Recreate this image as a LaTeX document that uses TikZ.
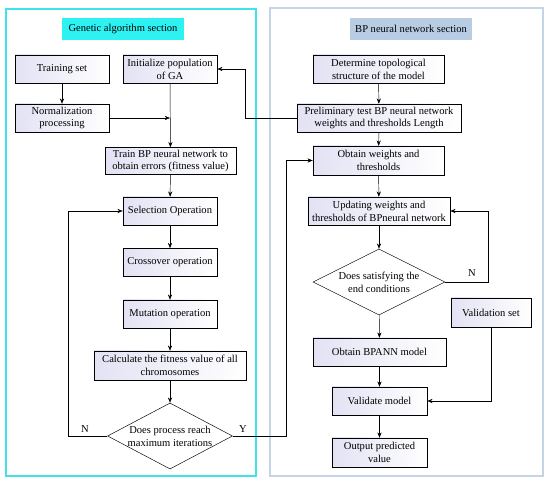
\documentclass[tikz,border=0pt]{standalone}
\usepackage{fontspec}
\setmainfont{Liberation Serif}
\usetikzlibrary{shapes.geometric,arrows.meta}
\definecolor{gaframe}{HTML}{3FE3EA}
\definecolor{gatitle}{HTML}{2EF2F2}
\definecolor{bpframe}{HTML}{C6D4E8}
\definecolor{bptitle}{HTML}{B8CCE4}
\definecolor{boxshade}{HTML}{E2E2F4}
\tikzset{
	box/.style={draw,left color=boxshade,right color=white,align=center,inner sep=1pt,font=\fontsize{9}{11}\selectfont},
	decide/.style={draw,diamond,aspect=1.9,inner sep=0pt,fill=white,align=center,font=\fontsize{9}{11}\selectfont},
	lbl/.style={font=\fontsize{9}{11}\selectfont}
}
\begin{document}
\begin{tikzpicture}[x=0.03cm,y=-0.03cm,>={Stealth[length=4.5pt,width=3.5pt]}]
	\useasboundingbox (0,0) rectangle (550,484);
	% frames
	\draw[gaframe,line width=1.2pt] (6,9) rectangle (256,476);
	\draw[bpframe,line width=1.2pt] (270,8) rectangle (543,476);
	\node[fill=gatitle,minimum width=122*0.03cm,minimum height=22*0.03cm,lbl] (gatitle) at (123,29) {Genetic algorithm section};
	\node[fill=bptitle,minimum width=122*0.03cm,minimum height=22*0.03cm,lbl] (bptitle) at (411,29) {BP neural network section};
	% genetic algorithm
	\node[box,minimum width=94*0.03cm,minimum height=28*0.03cm] (tset) at (62,69) {Training set};
	\node[box,minimum width=94*0.03cm,minimum height=28*0.03cm] (init) at (170,69) {Initialize population\\of GA};
	\node[box,minimum width=94*0.03cm,minimum height=28*0.03cm] (norm) at (62,118) {Normalization\\processing};
	\node[box,minimum width=131*0.03cm,minimum height=27*0.03cm] (train) at (170.5,161) {Train BP neural network to\\obtain errors (fitness value)};
	\node[box,minimum width=94*0.03cm,minimum height=28*0.03cm] (sel) at (170,211) {Selection Operation};
	\node[box,minimum width=94*0.03cm,minimum height=28*0.03cm] (cross) at (170,262.5) {Crossover operation};
	\node[box,minimum width=94*0.03cm,minimum height=28*0.03cm] (mut) at (170,314) {Mutation operation};
	\node[box,minimum width=152*0.03cm,minimum height=29*0.03cm] (calc) at (170,365.5) {Calculate the fitness value of all\\chromosomes};
	\node[decide,minimum width=125*0.03cm,minimum height=66*0.03cm] (maxit) at (170,436) {Does process reach\\maximum iterations};
	% BP neural network
	\node[box,minimum width=131*0.03cm,minimum height=28*0.03cm] (topo) at (378.5,69) {Determine topological\\structure of the model};
	\node[box,minimum width=164*0.03cm,minimum height=28*0.03cm] (prelim) at (379,118) {Preliminary test BP neural network\\weights and thresholds Length};
	\node[box,minimum width=131*0.03cm,minimum height=29*0.03cm] (obtw) at (378.5,160.5) {Obtain weights and\\thresholds};
	\node[box,minimum width=142*0.03cm,minimum height=28*0.03cm] (upd) at (379,211) {Updating weights and\\thresholds of BPneural network};
	\node[decide,minimum width=132*0.03cm,minimum height=66*0.03cm] (endc) at (379,282) {Does satisfying the\\end conditions};
	\node[box,minimum width=80*0.03cm,minimum height=29*0.03cm] (valset) at (491,312.5) {Validation set};
	\node[box,minimum width=133*0.03cm,minimum height=28*0.03cm] (bpann) at (379.5,352) {Obtain BPANN model};
	\node[box,minimum width=95*0.03cm,minimum height=28*0.03cm] (valid) at (379.5,401) {Validate model};
	\node[box,minimum width=95*0.03cm,minimum height=29*0.03cm] (output) at (379.5,452.5) {Output predicted\\value};
	% labels on the loops
	\node[lbl] (gano) at (85,429) {N};
	\node[lbl] (gayes) at (243,429) {Y};
	\node[lbl] (bpno) at (472,273) {N};
	% connectors
	\draw[->] (tset)--(norm);
	\draw[->] (init)--(train);
	\draw[->] (norm.east)--(init.south|-norm.east);
	\draw[->] (train)--(sel);
	\draw[->] (sel)--(cross);
	\draw[->] (cross)--(mut);
	\draw[->] (mut)--(calc);
	\draw[->] (calc)--(maxit);
	\draw[->] (maxit.west)--++(-39,0)|-(sel.west);
	\draw[->] (maxit.east)--++(53,0)|-(obtw.west);
	\draw[->] (prelim.west)--++(-52,0)|-(init.east);
	\draw[->] (topo)--(prelim);
	\draw[->] (prelim)--(obtw);
	\draw[->] (obtw)--(upd);
	\draw[->] (upd)--(endc);
	\draw[->] (endc.east)--++(43,0)|-(upd.east);
	\draw[->] (endc)--(bpann);
	\draw[->] (bpann)--(valid);
	\draw[->] (valid)--(output);
	\draw[->] (valset.south)|-(valid.east);
\end{tikzpicture}
\end{document}
